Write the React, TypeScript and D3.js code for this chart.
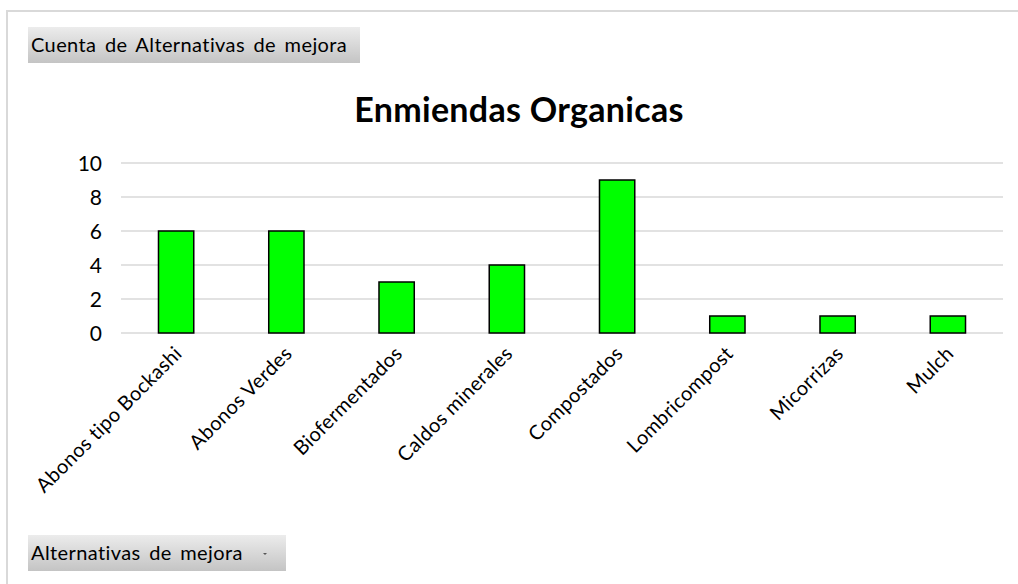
import React, { useRef, useEffect } from 'react';
import * as d3 from 'd3';

const categories = [
  'Abonos tipo Bockashi',
  'Abonos Verdes',
  'Biofermentados',
  'Caldos minerales',
  'Compostados',
  'Lombricompost',
  'Micorrizas',
  'Mulch',
];
const counts = [6, 6, 3, 4, 9, 1, 1, 1];
const yTicks = [0, 2, 4, 6, 8, 10];

const FONT = 'Lato, "Open Sans", sans-serif';

const App = () => {
  const svgRef = useRef<SVGSVGElement | null>(null);

  useEffect(() => {
    const svg = d3.select(svgRef.current);
    svg.selectAll('*').remove();

    const width = 1018;
    const height = 584;
    const margin = { top: 163, right: 15, bottom: 251, left: 121 };
    const plotBottom = height - margin.bottom;

    const defs = svg.append('defs');
    const grad = defs.append('linearGradient')
      .attr('id', 'btnGrad')
      .attr('x1', 0).attr('y1', 0).attr('x2', 0).attr('y2', 1);
    grad.append('stop').attr('offset', '0%').attr('stop-color', '#ececec');
    grad.append('stop').attr('offset', '100%').attr('stop-color', '#c4c4c4');

    // frame lines
    svg.append('line')
      .attr('x1', 7).attr('x2', width).attr('y1', 11).attr('y2', 11)
      .attr('stroke', '#d9d9d9').attr('stroke-width', 2);
    svg.append('line')
      .attr('x1', 7).attr('x2', 7).attr('y1', 10).attr('y2', height)
      .attr('stroke', '#d9d9d9').attr('stroke-width', 2);

    // field buttons
    const buttons = [
      { label: 'Cuenta de Alternativas de mejora', x: 28, y: 27, w: 332, arrow: false },
      { label: 'Alternativas de mejora', x: 28, y: 535, w: 258, arrow: true },
    ];
    buttons.forEach(b => {
      const g = svg.append('g').attr('transform', `translate(${b.x},${b.y})`);
      g.append('rect')
        .attr('width', b.w).attr('height', 36)
        .attr('fill', 'url(#btnGrad)');
      g.append('text')
        .attr('x', 3).attr('y', 25)
        .attr('font-family', FONT)
        .attr('font-size', 20)
        .attr('letter-spacing', 0.4)
        .attr('word-spacing', 3)
        .attr('fill', '#000')
        .text(b.label);
      if (b.arrow) {
        g.append('path')
          .attr('d', `M${b.w - 23},18 l4,0 l-2,2 z`)
          .attr('fill', '#555');
      }
    });

    // title
    svg.append('text')
      .attr('x', 519).attr('y', 122)
      .attr('text-anchor', 'middle')
      .attr('font-family', FONT)
      .attr('font-weight', 'bold')
      .attr('font-size', 34)
      .attr('letter-spacing', 0.3)
      .attr('fill', '#000')
      .text('Enmiendas Organicas');

    const x = d3.scaleBand()
      .domain(categories)
      .range([margin.left, width - margin.right])
      .paddingInner(0.68)
      .paddingOuter(0.34);

    const y = d3.scaleLinear()
      .domain([0, 10])
      .range([plotBottom, margin.top]);

    // gridlines
    svg.append('g')
      .selectAll('line')
      .data(yTicks)
      .enter()
      .append('line')
      .attr('x1', margin.left)
      .attr('x2', width - margin.right)
      .attr('y1', d => y(d))
      .attr('y2', d => y(d))
      .attr('stroke', '#d9d9d9')
      .attr('stroke-width', 1.5);

    // y tick labels
    svg.append('g')
      .selectAll('text')
      .data(yTicks)
      .enter()
      .append('text')
      .attr('x', 102)
      .attr('y', d => y(d) + 7.5)
      .attr('text-anchor', 'end')
      .attr('font-family', FONT)
      .attr('font-size', 21)
      .attr('fill', '#000')
      .text(d => d);

    // bars
    svg.append('g')
      .selectAll('rect')
      .data(categories)
      .enter()
      .append('rect')
      .attr('x', d => x(d)!)
      .attr('y', (d, i) => y(counts[i]))
      .attr('width', x.bandwidth())
      .attr('height', (d, i) => plotBottom - y(counts[i]))
      .attr('fill', '#00ff00')
      .attr('stroke', '#000')
      .attr('stroke-width', 1.5);

    // category labels
    svg.append('g')
      .selectAll('text')
      .data(categories)
      .enter()
      .append('text')
      .attr('transform', d => `translate(${x(d)! + x.bandwidth() / 2 + 7},${plotBottom + 22}) rotate(-45)`)
      .attr('text-anchor', 'end')
      .attr('font-family', FONT)
      .attr('font-size', 20)
      .attr('letter-spacing', 0.3)
      .attr('fill', '#000')
      .text(d => d);
  }, []);

  return (
    <svg
      ref={svgRef}
      width={1018}
      height={584}
      style={{ position: 'absolute', left: 0, top: 0, background: '#fff' }}
    />
  );
};

export default App;
